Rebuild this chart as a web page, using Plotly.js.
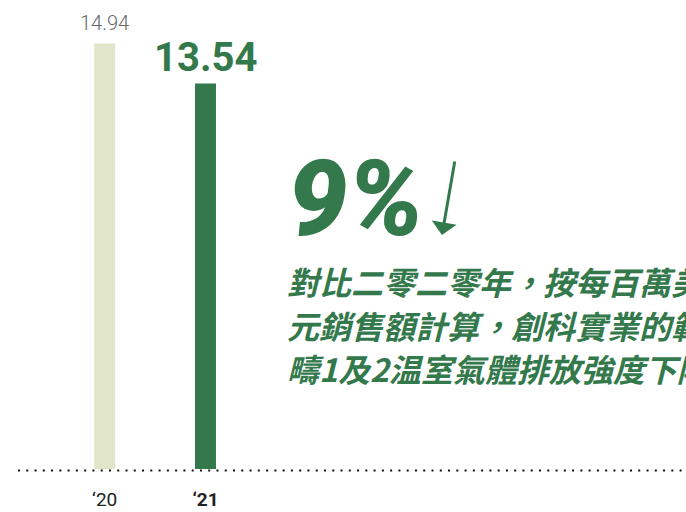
<!DOCTYPE html>
<html><head><meta charset="utf-8">
<script src="https://cdn.plot.ly/plotly-3.0.1.min.js"></script>
<style>html,body{margin:0;padding:0;overflow:hidden;background:#fff}</style>
</head><body><div id="chart" style="width:686px;height:512px"></div>
<script>
const years = ["FY20", "FY21"];
const tickLabels = ["‘20", "<b>‘21</b>"];
const intensity = [14.94, 13.54];
const barColors = ["#e2e6c9", "#33794b"];
const headline = "9%";
const captionLines = ["對比二零二零年，按每百萬美", "元銷售額計算，創科實業的範", "疇1及2温室氣體排放強度下降"];

const green = "#33794b";
const H = 469; // plot height px
const W = 686;
const px = (x) => x / W;
const py = (y) => 1 - y / H;

const trace = {
  type: 'bar', x: years, y: intensity,
  marker: {color: barColors},
  width: 0.208, hoverinfo: 'skip'
};

const valueFonts = [
  {family: 'Roboto', size: 20, weight: 300, color: '#666666'},
  {family: 'Roboto', size: 40, weight: 'bold', color: green}
];
const valueShift = [7, 0];

const annotations = [];
years.forEach((yr, i) => {
  annotations.push({x: yr, y: intensity[i], xref: 'x', yref: 'y', text: intensity[i].toFixed(2),
    showarrow: false, yanchor: 'bottom', xanchor: 'center', yshift: valueShift[i], font: valueFonts[i]});
});
annotations.push({xref: 'paper', yref: 'paper', x: px(286), y: py(199), xanchor: 'left', yanchor: 'middle',
  text: headline, showarrow: false,
  font: {family: 'Roboto', size: 106, weight: 900, style: 'italic', color: green}});
annotations.push({xref: 'paper', yref: 'paper', x: px(442), y: py(235), text: '', showarrow: true,
  ax: 13, ay: -75, arrowhead: 1, arrowsize: 1.4, arrowwidth: 3, arrowcolor: green, standoff: 0});
const lineY = [281, 325, 368];
captionLines.forEach((t, i) => {
  annotations.push({xref: 'paper', yref: 'paper', x: px(285), y: py(lineY[i]), xanchor: 'left', yanchor: 'middle',
    text: t, showarrow: false,
    font: {family: 'Noto Sans CJK TC', size: 32, weight: 'bold', style: 'italic', color: green}});
});

const layout = {
  width: 686, height: 512,
  margin: {l: 0, r: 0, t: 0, b: 43, pad: 0},
  paper_bgcolor: '#ffffff', plot_bgcolor: '#ffffff',
  showlegend: false,
  xaxis: {type: 'category', range: [-1.0387, 5.767], tickvals: years, ticktext: tickLabels,
    showgrid: false, zeroline: false, showline: false, ticks: '', ticklabelstandoff: 17,
    tickfont: {family: 'Roboto', size: 19, color: '#222222'}},
  yaxis: {range: [0, 469 / 28.48], visible: false, showgrid: false, zeroline: false},
  shapes: [{type: 'line', xref: 'paper', yref: 'paper', x0: px(18), x1: 1.02, y0: -1.5 / H, y1: -1.5 / H,
    line: {color: '#111111', width: 2, dash: '2px,6.27px'}}],
  annotations: annotations
};

Plotly.newPlot('chart', [trace], layout, {staticPlot: true, displayModeBar: false});
</script>
</body></html>
